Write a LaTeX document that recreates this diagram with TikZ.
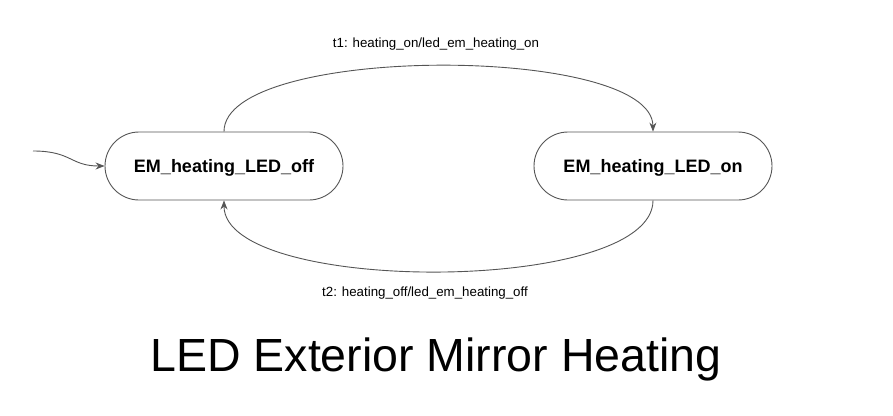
\documentclass[tikz,border=0pt]{standalone}
\usepackage{fontspec}
\setmainfont{Liberation Sans}
\usetikzlibrary{arrows.meta}
\definecolor{edgegray}{HTML}{555555}
\begin{document}
\begin{tikzpicture}[x=1pt,y=-1pt,
  state/.style={draw=edgegray, line width=0.9pt, rounded corners=34pt, minimum width=238pt, minimum height=68pt, inner sep=0pt, font=\fontsize{18}{20}\selectfont\bfseries},
  trans/.style={draw=edgegray, line width=0.9pt, -{Stealth[length=9pt,width=7pt,inset=3pt]}},
  lbl/.style={font=\fontsize{13.3}{15}\selectfont, inner sep=0pt}]
\useasboundingbox (0,0) rectangle (893,415);
\node[state, text depth=1pt] (off) at (224,166) {EM\_heating\_LED\_off};
\node[state, text depth=1pt] (on) at (653,166) {EM\_heating\_LED\_on};
\coordinate (init) at (33,151);
\draw[trans] (init) .. controls (72,151) and (70,166) .. (off.west);
\draw[trans] (off.north) .. controls (224,44) and (652,44) .. (on.north);
\draw[trans] (on.south) .. controls (653,295) and (224,295) .. (off.south);
\node[lbl] (t1) at (436,44) {t1: heating\_on/led\_em\_heating\_on};
\node[lbl] (t2) at (425,293) {t2: heating\_off/led\_em\_heating\_off};
\node[font=\fontsize{46.5}{50}\selectfont, inner sep=0pt] (title) at (436,359) {LED Exterior Mirror Heating};
\end{tikzpicture}
\end{document}
